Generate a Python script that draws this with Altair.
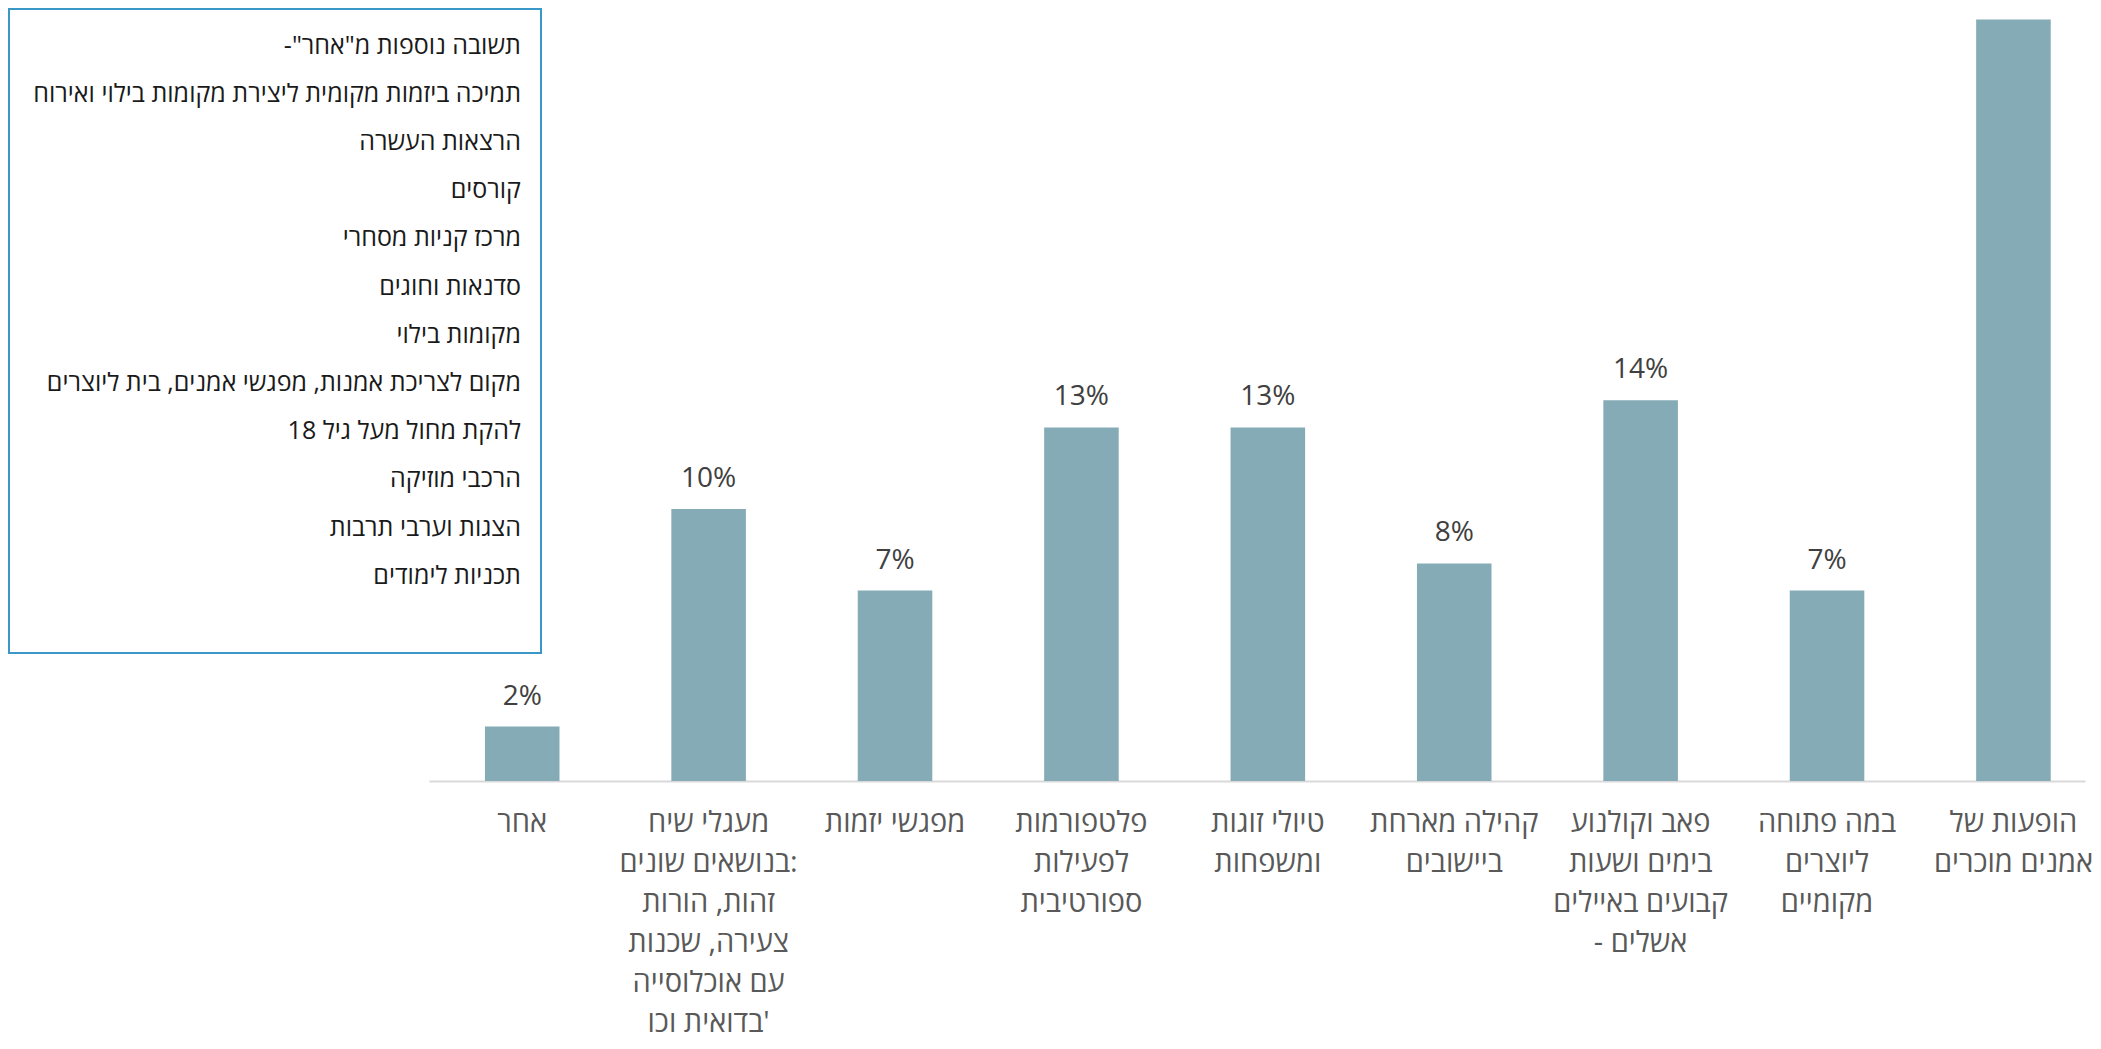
import altair as alt
import pandas as pd

RLM = "\u200f"
RLO, PDF = "\u202e", "\u202c"

# ---- data ----
categories = [
    ["אחר"],
    ["מעגלי שיח", ":בנושאים שונים", "זהות, הורות", "צעירה, שכנות", "עם אוכלוסייה", "'בדואית וכו"],
    ["מפגשי יזמות"],
    ["פלטפורמות", "לפעילות", "ספורטיבית"],
    ["טיולי זוגות", "ומשפחות"],
    ["קהילה מארחת", "ביישובים"],
    ["פאב וקולנוע", "בימים ושעות", "קבועים באיילים", "אשלים -"],
    ["במה פתוחה", "ליוצרים", "מקומיים"],
    ["הופעות של", "אמנים מוכרים"],
]
values = [2, 10, 7, 13, 13, 8, 14, 7, 28]

legend_lines = [
    "תשובה נוספות מ\"אחר\"-",
    "תמיכה ביזמות מקומית ליצירת מקומות בילוי ואירוח",
    "הרצאות העשרה",
    "קורסים",
    "מרכז קניות מסחרי",
    "סדנאות  וחוגים",
    "מקומות בילוי",
    "מקום לצריכת אמנות, מפגשי אמנים, בית ליוצרים",
    "להקת מחול מעל גיל 18",
    "הרכבי מוזיקה",
    "הצגות וערבי תרבות",
    "תכניות לימודים",
]

# x labels: right-to-left override so each line reads exactly as in the source
cat_keys = ["\n".join(RLO + line + PDF for line in c) for c in categories]
legend_render = [RLM + line + RLM for line in legend_lines]

Y_MAX = 28.42
df = pd.DataFrame({"cat": cat_keys, "value": values})
df["label"] = [f"{v}%" for v in values]

FONT = "Open Sans"
W, H = 1656, 773

x_enc = alt.X(
    "cat:N",
    sort=cat_keys,
    scale=alt.Scale(paddingInner=0.6, paddingOuter=0.242, align=0.62),
    axis=alt.Axis(
        title=None,
        labelAngle=0,
        labelExpr="split(datum.value, '\\n')",
        labelFont=FONT,
        labelFontSize=29,
        labelColor="#595959",
        labelLineHeight=40,
        labelPadding=27,
        labelLimit=400,
        ticks=False,
        domainColor="#d9d9d9",
        domainWidth=2,
        grid=False,
    ),
)
y_enc = alt.Y("value:Q", scale=alt.Scale(domain=[0, Y_MAX], nice=False), axis=None)

bars = alt.Chart(df).mark_bar(color="#85abb6").encode(x=x_enc, y=y_enc)
labels = (
    alt.Chart(df)
    .transform_filter(f"datum.value < {Y_MAX - 2}")
    .mark_text(baseline="bottom", dy=-16, font=FONT, fontSize=28, color="#404040")
    .encode(x=x_enc, y=y_enc, text="label:N")
)

anno = pd.DataFrame({"k": [0]})
box = alt.Chart(anno).mark_rect(
    fill="white", stroke="#3a98c6", strokeWidth=2
).encode(
    x=alt.value(-420), x2=alt.value(112), y=alt.value(1), y2=alt.value(645)
)
legend_text = alt.Chart(anno).mark_text(
    text=legend_render,
    align="right",
    baseline="middle",
    lineHeight=48.2,
    font=FONT,
    fontSize=25,
    color="#1a1a1a",
).encode(x=alt.value(92), y=alt.value(37.5))

chart = (
    alt.layer(bars, labels, box, legend_text)
    .properties(
        width=W,
        height=H,
        autosize=alt.AutoSizeParams(type="none"),
        padding={"left": 421, "top": 0, "right": 8, "bottom": 260},
    )
    .configure_view(stroke=None)
)

chart.save("out.html", embed_options={"renderer": "svg", "actions": False})
